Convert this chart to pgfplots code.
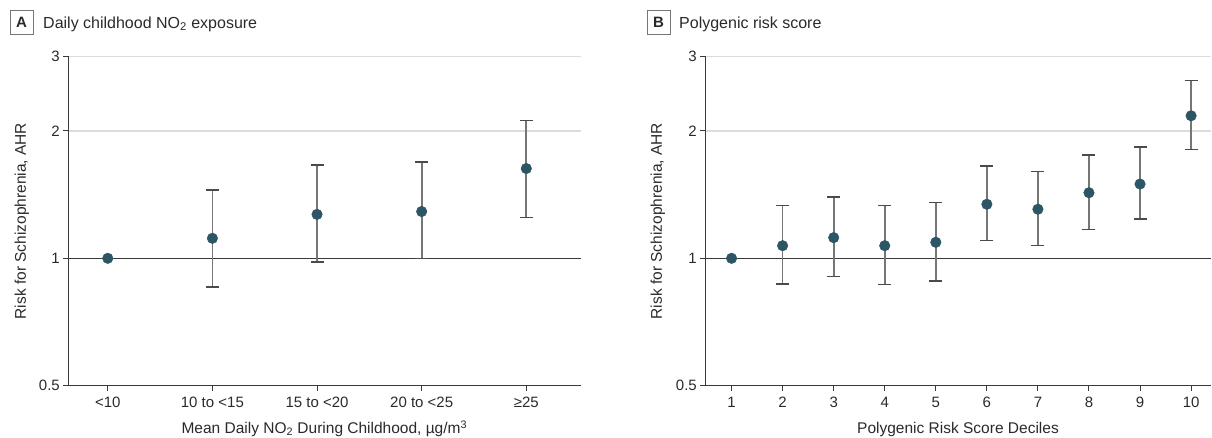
\documentclass[border=0pt]{standalone}
\usepackage{fontspec}
\setmainfont{Liberation Sans}
\usepackage{pgfplots}
\usepackage{pgfplotstable}
\pgfplotsset{compat=1.18}

\definecolor{dotc}{HTML}{2C5565}
\definecolor{barc}{HTML}{767676}
\definecolor{capc}{HTML}{4A4A4A}
\definecolor{axc}{HTML}{3A3A3A}
\definecolor{gridc}{HTML}{DCDCDC}
\definecolor{txt}{HTML}{2A2A2A}

% Panel A: x y lo hi
\pgfplotstableread{
x y lo hi
0 1.000 1.000 1.000
1 1.115 0.856 1.450
2 1.270 0.980 1.660
3 1.290 1.000 1.690
4 1.630 1.250 2.120
}\dataA
% Panel B
\pgfplotstableread{
x y lo hi
1 1.000 1.000 1.000
2 1.071 0.869 1.331
3 1.119 0.907 1.396
4 1.071 0.868 1.331
5 1.091 0.884 1.356
6 1.342 1.103 1.652
7 1.306 1.073 1.605
8 1.429 1.171 1.754
9 1.498 1.238 1.832
10 2.172 1.806 2.634
}\dataB

\begin{document}
\begin{tikzpicture}
\useasboundingbox (0,0) rectangle (1212bp,438bp);

% ---------- Panel A ----------
\begin{axis}[
  scale only axis, anchor=south west, at={(68bp,52.3bp)},
  width=512.7bp, height=329.3bp,
  ymode=log, ymin=0.5, ymax=3,
  ytick={0.5,1,2,3}, yticklabels={0.5,1,2,3},
  xmin=-0.38, xmax=4.52,
  xtick={0,1,2,3,4},
  xticklabels={{<10},{10 to <15},{15 to <20},{20 to <25},{≥25}},
  axis x line*=bottom, axis y line*=left,
  axis line style={axc, line width=1bp},
  tick style={axc, line width=1bp},
  tick align=outside, major tick length=5bp,
  ymajorgrids, grid style={gridc, line width=1.2bp},
  ticklabel style={font=\fontsize{15bp}{18bp}\selectfont, text=txt},
  yticklabel style={inner sep=0pt, anchor=east, xshift=-3bp},
  xticklabel style={inner sep=0pt, anchor=north, text height=10.8bp, text depth=0pt, yshift=-6bp},
  label style={font=\fontsize{15.5bp}{18bp}\selectfont, text=txt},
  xlabel style={at={(axis description cs:0.5,-0.1102)}, anchor=north, inner sep=0pt, text height=11.1bp},
  ylabel style={at={(axis description cs:-0.0900,0.5)}, anchor=center},
  xlabel={Mean Daily NO\textsubscript{2} During Childhood, µg/m\textsuperscript{3}},
  ylabel={Risk for Schizophrenia, AHR},
  clip=false,
]
\draw[axc, line width=1.2bp] (axis cs:-0.38,1) -- (axis cs:4.52,1);
\addplot[draw=none, mark=none,
  error bars/y dir=both, error bars/y explicit,
  error bars/error bar style={draw=barc, solid, line width=1.7bp},
  error bars/error mark options={rotate=90, mark size=6.5bp, draw=capc, line width=1.4bp}]
  table[x=x, y=y,
  y error plus expr=\thisrow{hi}-\thisrow{y},
  y error minus expr=\thisrow{y}-\thisrow{lo}] {\dataA};
\addplot[only marks, mark=*, mark size=5.3bp, mark options={fill=dotc, draw=dotc}]
  table[x=x, y=y] {\dataA};
\end{axis}

% ---------- Panel B ----------
\begin{axis}[
  scale only axis, anchor=south west, at={(705bp,52.3bp)},
  width=506bp, height=329.3bp,
  ymode=log, ymin=0.5, ymax=3,
  ytick={0.5,1,2,3}, yticklabels={0.5,1,2,3},
  xmin=0.48, xmax=10.39,
  xtick={1,2,3,4,5,6,7,8,9,10},
  xticklabels={1,2,3,4,5,6,7,8,9,10},
  axis x line*=bottom, axis y line*=left,
  axis line style={axc, line width=1bp},
  tick style={axc, line width=1bp},
  tick align=outside, major tick length=5bp,
  ymajorgrids, grid style={gridc, line width=1.2bp},
  ticklabel style={font=\fontsize{15bp}{18bp}\selectfont, text=txt},
  yticklabel style={inner sep=0pt, anchor=east, xshift=-3bp},
  xticklabel style={inner sep=0pt, anchor=north, text height=10.8bp, text depth=0pt, yshift=-6bp},
  label style={font=\fontsize{15.5bp}{18bp}\selectfont, text=txt},
  xlabel style={at={(axis description cs:0.5,-0.1102)}, anchor=north, inner sep=0pt, text height=11.1bp},
  ylabel style={at={(axis description cs:-0.0930,0.5)}, anchor=center},
  xlabel={Polygenic Risk Score Deciles},
  ylabel={Risk for Schizophrenia, AHR},
  clip=false,
]
\draw[axc, line width=1.2bp] (axis cs:0.48,1) -- (axis cs:10.39,1);
\addplot[draw=none, mark=none,
  error bars/y dir=both, error bars/y explicit,
  error bars/error bar style={draw=barc, solid, line width=1.7bp},
  error bars/error mark options={rotate=90, mark size=6.5bp, draw=capc, line width=1.4bp}]
  table[x=x, y=y,
  y error plus expr=\thisrow{hi}-\thisrow{y},
  y error minus expr=\thisrow{y}-\thisrow{lo}] {\dataB};
\addplot[only marks, mark=*, mark size=5.3bp, mark options={fill=dotc, draw=dotc}]
  table[x=x, y=y] {\dataB};
\end{axis}

% ---------- Panel titles ----------
\node[draw=barc, line width=0.9bp, minimum width=23bp, minimum height=24bp, inner sep=0pt,
  font=\bfseries\fontsize{15bp}{18bp}\selectfont, text=txt] at (21.5bp,416bp) {A};
\node[anchor=base west, inner sep=0pt, font=\fontsize{16bp}{19bp}\selectfont, text=txt]
  at (43bp,409.7bp) {Daily childhood NO\textsubscript{2} exposure};
\node[draw=barc, line width=0.9bp, minimum width=23bp, minimum height=24bp, inner sep=0pt,
  font=\bfseries\fontsize{15bp}{18bp}\selectfont, text=txt] at (658.5bp,416bp) {B};
\node[anchor=base west, inner sep=0pt, font=\fontsize{16bp}{19bp}\selectfont, text=txt]
  at (679bp,409.7bp) {Polygenic risk score};
\end{tikzpicture}
\end{document}
